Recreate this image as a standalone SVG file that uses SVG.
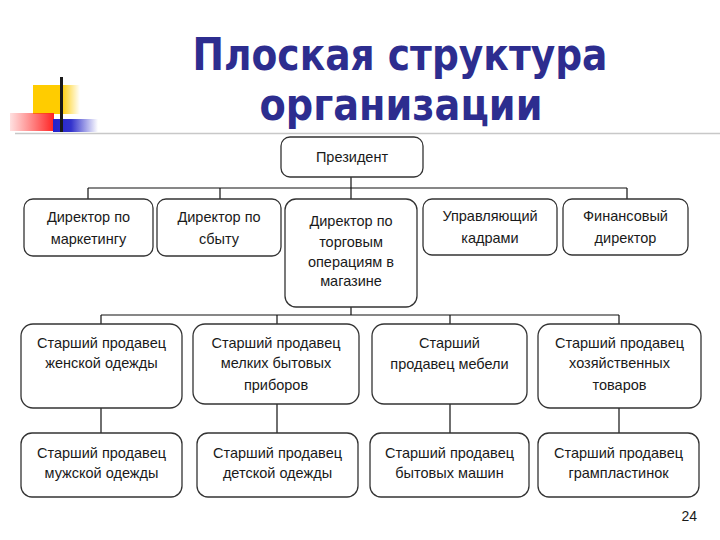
<svg xmlns="http://www.w3.org/2000/svg" width="720" height="540" viewBox="0 0 720 540">
<defs>
<linearGradient id="gY" x1="0" y1="0" x2="1" y2="0"><stop offset="0" stop-color="#FFCC00"/><stop offset="0.6" stop-color="#FFCC00"/><stop offset="1" stop-color="#FFCC00" stop-opacity="0"/></linearGradient>
<linearGradient id="gR" x1="0" y1="0" x2="1" y2="0"><stop offset="0" stop-color="#FF3333" stop-opacity="0.15"/><stop offset="1" stop-color="#FF2222"/></linearGradient>
<linearGradient id="gB" x1="0" y1="0" x2="1" y2="0"><stop offset="0" stop-color="#2222CC"/><stop offset="0.4" stop-color="#3333CC"/><stop offset="1" stop-color="#3333CC" stop-opacity="0"/></linearGradient>
<style>
.box{fill:#FFFFFF;stroke:#333333;stroke-width:1.3}
.t{font-family:"Liberation Sans",Arial,sans-serif;font-size:14.5px;fill:#1A1A1A;text-anchor:middle}
.c{stroke:#111111;stroke-width:1.2;fill:none}
.title{font-family:"DejaVu Sans",Verdana,sans-serif;font-weight:bold;font-size:44px;fill:#2D2D8F;text-anchor:middle}
</style>
</defs>
<rect width="720" height="540" fill="#FFFFFF"/>
<g id="logo">
<rect x="33" y="85" width="47" height="29" fill="url(#gY)"/>
<rect x="10" y="113" width="44" height="18" fill="url(#gR)"/>
<rect x="53" y="119" width="45" height="13" fill="url(#gB)"/>
<rect x="60" y="77" width="3" height="55" fill="#1A1A1A"/>
<line x1="15" y1="133.5" x2="720" y2="133.5" stroke="#C8C8C8" stroke-width="1.5"/>
</g>
<g id="title">
<text class="title" x="400" y="70" textLength="415" lengthAdjust="spacingAndGlyphs">Плоская структура</text>
<text class="title" x="401" y="120" textLength="283" lengthAdjust="spacingAndGlyphs">организации</text>
</g>
<g id="connectors" class="c">
<path d="M351 177V199M88 188H627M88 188V199M220 188V199M627 188V199"/>
<path d="M351 307V315M101 315H619M101 315V324M277 315V324M450 315V324M619 315V324"/>
<path d="M101 408V433M277 404V433M450 404V433M619 408V433"/>
</g>
<g id="president"><rect class="box" x="281" y="137" width="142" height="40" rx="9"/><text class="t" x="352" y="162">Президент</text></g>
<g id="dir-marketing"><rect class="box" x="24" y="199" width="129" height="57" rx="9"/><text class="t" x="88.5" y="222">Директор по</text><text class="t" x="88.5" y="244">маркетингу</text></g>
<g id="dir-sales"><rect class="box" x="157" y="199" width="124" height="57" rx="9"/><text class="t" x="219" y="222">Директор по</text><text class="t" x="219" y="244">сбыту</text></g>
<g id="dir-trade"><rect class="box" x="285" y="199" width="132" height="108" rx="11"/><text class="t" x="351" y="226">Директор по</text><text class="t" x="351" y="247">торговым</text><text class="t" x="351" y="267">операциям в</text><text class="t" x="351" y="286">магазине</text></g>
<g id="hr"><rect class="box" x="423" y="199" width="134" height="56" rx="9"/><text class="t" x="490" y="221">Управляющий</text><text class="t" x="490" y="243">кадрами</text></g>
<g id="finance"><rect class="box" x="563" y="199" width="125" height="56" rx="9"/><text class="t" x="625.5" y="221">Финансовый</text><text class="t" x="625.5" y="243">директор</text></g>
<g id="women"><rect class="box" x="21" y="324" width="161" height="84" rx="12"/><text class="t" x="101.5" y="348">Старший продавец</text><text class="t" x="101.5" y="368">женской одежды</text></g>
<g id="appliances"><rect class="box" x="193" y="324" width="166" height="80" rx="12"/><text class="t" x="276" y="348">Старший продавец</text><text class="t" x="276" y="368">мелких бытовых</text><text class="t" x="276" y="390">приборов</text></g>
<g id="furniture"><rect class="box" x="372" y="324" width="155" height="80" rx="12"/><text class="t" x="449.5" y="348">Старший</text><text class="t" x="449.5" y="369">продавец мебели</text></g>
<g id="household"><rect class="box" x="538" y="324" width="163" height="84" rx="12"/><text class="t" x="619.5" y="348">Старший продавец</text><text class="t" x="619.5" y="368">хозяйственных</text><text class="t" x="619.5" y="390">товаров</text></g>
<g id="men"><rect class="box" x="21" y="433" width="161" height="64" rx="11"/><text class="t" x="101.5" y="458">Старший продавец</text><text class="t" x="101.5" y="478">мужской одежды</text></g>
<g id="children"><rect class="box" x="197" y="433" width="161" height="64" rx="11"/><text class="t" x="277.5" y="458">Старший продавец</text><text class="t" x="277.5" y="478">детской одежды</text></g>
<g id="machines"><rect class="box" x="370" y="433" width="159" height="64" rx="11"/><text class="t" x="449.5" y="458">Старший продавец</text><text class="t" x="449.5" y="478">бытовых машин</text></g>
<g id="records"><rect class="box" x="538" y="433" width="161" height="64" rx="11"/><text class="t" x="618.5" y="458">Старший продавец</text><text class="t" x="618.5" y="478">грампластинок</text></g>
<text x="697" y="521" style="font-family:'Liberation Sans',Arial,sans-serif;font-size:14px;fill:#1A1A1A;text-anchor:end">24</text>
</svg>
